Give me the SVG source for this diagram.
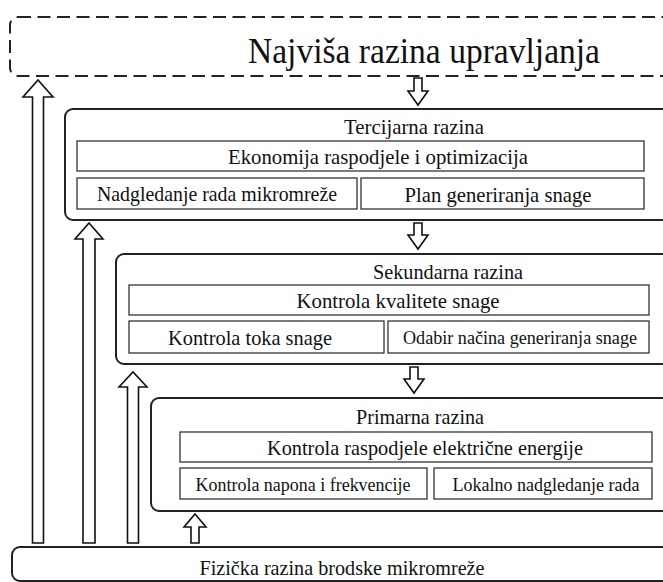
<svg xmlns="http://www.w3.org/2000/svg" width="663" height="582" viewBox="0 0 663 582">
<style>
.lvl{fill:#fff;stroke:#222;stroke-width:2}
.box{fill:#fff;stroke:#333;stroke-width:1.3}
.arr{fill:#fff;stroke:#111;stroke-width:1.6;stroke-linejoin:miter}
.t20{font-size:21.5px}
.t18{font-size:19px}
</style>
<rect width="663" height="582" fill="#fff"/>
<g font-family="'Liberation Serif', 'Times New Roman', Times, 'DejaVu Serif', serif" fill="#111" text-anchor="middle">
<g id="top">
<rect x="10" y="17" width="680" height="59" rx="8" fill="none" stroke="#222" stroke-width="2" stroke-dasharray="13,6.5"/>
<text x="424" y="63" font-size="35" textLength="352" lengthAdjust="spacingAndGlyphs">Najviša razina upravljanja</text>
</g>
<g id="tertiary">
<rect class="lvl" x="65" y="109" width="640" height="111" rx="8"/>
<text class="t20" x="414" y="134" textLength="140" lengthAdjust="spacingAndGlyphs">Tercijarna razina</text>
<rect class="box" x="77" y="141" width="567" height="30"/>
<text class="t20" x="378" y="163.5" textLength="300" lengthAdjust="spacingAndGlyphs">Ekonomija raspodjele i optimizacija</text>
<rect class="box" x="77" y="178" width="280" height="31"/>
<text class="t20" x="217" y="200.5" textLength="240" lengthAdjust="spacingAndGlyphs">Nadgledanje rada mikromreže</text>
<rect class="box" x="361" y="178" width="283" height="31"/>
<text class="t20" x="498" y="201.5" textLength="187" lengthAdjust="spacingAndGlyphs">Plan generiranja snage</text>
</g>
<g id="secondary">
<rect class="lvl" x="116" y="254" width="600" height="110" rx="8"/>
<text class="t20" x="448" y="278.5" textLength="150" lengthAdjust="spacingAndGlyphs">Sekundarna razina</text>
<rect class="box" x="129" y="285" width="520" height="30"/>
<text class="t20" x="398" y="307.5" textLength="203" lengthAdjust="spacingAndGlyphs">Kontrola kvalitete snage</text>
<rect class="box" x="129" y="321" width="255" height="32"/>
<text class="t20" x="250" y="344.5" textLength="164" lengthAdjust="spacingAndGlyphs">Kontrola toka snage</text>
<rect class="box" x="388" y="321" width="261" height="32"/>
<text class="t18" x="520" y="343.5" textLength="234" lengthAdjust="spacingAndGlyphs">Odabir načina generiranja snage</text>
</g>
<g id="primary">
<rect class="lvl" x="151" y="398" width="560" height="113" rx="8"/>
<text class="t20" x="420" y="423.5" textLength="128" lengthAdjust="spacingAndGlyphs">Primarna razina</text>
<rect class="box" x="180" y="432" width="472" height="30"/>
<text class="t20" x="425" y="454.5" textLength="316" lengthAdjust="spacingAndGlyphs">Kontrola raspodjele električne energije</text>
<rect class="box" x="180" y="468" width="247" height="31"/>
<text class="t18" x="303" y="490.5" textLength="215" lengthAdjust="spacingAndGlyphs">Kontrola napona i frekvencije</text>
<rect class="box" x="434" y="468" width="218" height="31"/>
<text class="t18" x="546" y="490.5" textLength="187" lengthAdjust="spacingAndGlyphs">Lokalno nadgledanje rada</text>
</g>
<g id="physical">
<rect class="lvl" x="12" y="547" width="700" height="34" rx="8"/>
<text class="t20" x="342" y="574.5" textLength="285" lengthAdjust="spacingAndGlyphs">Fizička razina brodske mikromreže</text>
</g>
</g>
<g id="connectors">
<path class="arr" d="M414,78 H422 V91 H428 L418,105 L408,91 H414 Z"/>
<path class="arr" d="M414,223 H422 V235 H428 L418,249 L408,235 H414 Z"/>
<path class="arr" d="M410,367 H418 V379 H424 L414,393 L404,379 H410 Z"/>
<path class="arr" d="M32.5,543 V97 H23 L38,80 L53,97 H43.5 V543 Z"/>
<path class="arr" d="M83,543 V239 H75 L89,223 L103,239 H95 V543 Z"/>
<path class="arr" d="M127.5,543 V387 H119 L133,372 L147,387 H138.5 V543 Z"/>
<path class="arr" d="M191,543 V527 H184 L195,514 L206,527 H199 V543 Z"/>
</g>
</svg>
